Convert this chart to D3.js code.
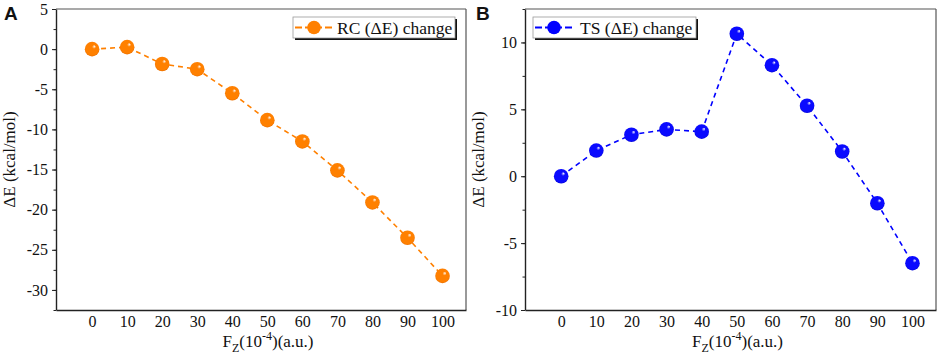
<!DOCTYPE html>
<html>
<head>
<meta charset="utf-8">
<script src="https://cdn.jsdelivr.net/npm/d3@7"></script>
<style>
  body { margin: 0; background: #fff; }
  text { font-family: "Liberation Serif", "Times New Roman", serif; }
  text.letter { font-family: "Liberation Sans", Arial, sans-serif; font-weight: bold; }
</style>
</head>
<body>
<script>
//data
var fieldValues = [0, 10, 20, 30, 40, 50, 60, 70, 80, 90, 100];
var rcValues = [0, 0.25, -1.85, -2.5, -5.5, -8.85, -11.5, -15.1, -19.1, -23.5, -28.25];
var tsValues = [0, 1.92, 3.1, 3.5, 3.33, 10.65, 8.3, 5.27, 1.85, -2.02, -6.5];
var rcTicks = [-30, -25, -20, -15, -10, -5, 0, 5];
var tsTicks = [-10, -5, 0, 5, 10];
var xTicks = fieldValues;

var serif = "'Liberation Serif', 'Times New Roman', serif";

var w = 941;
var h = 357;

var svg = d3.select("body")
            .append("svg")
            .attr("width", w)
            .attr("height", h);

var defs = svg.append("defs");

//shiny sphere gradients for the markers
function addBall(id, base, dark) {
    var g = defs.append("radialGradient")
        .attr("id", id)
        .attr("cx", "0.45").attr("cy", "0.5").attr("r", "0.6")
        .attr("fx", "0.68").attr("fy", "0.3");
    g.append("stop").attr("offset", "0").attr("stop-color", "#ffffff");
    g.append("stop").attr("offset", "0.22").attr("stop-color", base);
    g.append("stop").attr("offset", "0.75").attr("stop-color", base);
    g.append("stop").attr("offset", "1").attr("stop-color", dark);
}
addBall("ballOrange", "#ff8000", "#d85f00");
addBall("ballBlue", "#0a0aff", "#0000b0");

function drawPanel(opt) {
    var left = opt.left, right = opt.right, top = 9, bottom = 310;

    var x = d3.scaleLinear().domain([-10.3, 106.7]).range([left, right]);
    var y = d3.scaleLinear().domain(opt.yDomain).range([bottom, top]);

    var g = svg.append("g");

    //top and right frame
    g.append("line").attr("x1", left).attr("x2", right).attr("y1", top).attr("y2", top)
        .attr("stroke", "#555").attr("stroke-width", 1.2);
    g.append("line").attr("x1", right).attr("x2", right).attr("y1", top).attr("y2", bottom)
        .attr("stroke", "#555").attr("stroke-width", 1.2);

    //minor y ticks
    var minor = d3.range(opt.yDomain[0], opt.yDomain[1] + 0.01, 2.5);
    g.append("g")
        .attr("transform", "translate(" + left + ",0)")
        .call(d3.axisLeft(y).tickValues(minor).tickSize(2.5).tickFormat(""))
        .call(function(a) { a.select(".domain").remove(); })
        .selectAll("line").attr("stroke", "#222");

    //y axis
    var yAxis = g.append("g")
        .attr("transform", "translate(" + left + ",0)")
        .call(d3.axisLeft(y).tickValues(opt.yTicks).tickSize(4).tickSizeOuter(0).tickPadding(4)
            .tickFormat(function(d) { return d; }));
    yAxis.attr("font-family", null);
    yAxis.select(".domain").attr("stroke", "#222").attr("stroke-width", 1.4);
    yAxis.selectAll("line").attr("stroke", "#222");
    yAxis.selectAll("text").style("font-family", serif).style("font-size", "16px").attr("fill", "#111");

    //x axis (labels only)
    var xAxis = g.append("g")
        .attr("transform", "translate(0," + bottom + ")")
        .call(d3.axisBottom(x).tickValues(xTicks).tickSize(0).tickSizeOuter(0).tickPadding(6));
    xAxis.attr("font-family", null);
    xAxis.select(".domain").attr("stroke", "#222").attr("stroke-width", 1.4);
    xAxis.selectAll("text").style("font-family", serif).style("font-size", "16px").attr("fill", "#111");

    //axis titles
    var xt = g.append("text")
        .attr("x", (left + right) / 2 + 7)
        .attr("y", 347)
        .attr("text-anchor", "middle")
        .attr("font-size", 17)
        .attr("fill", "#111");
    xt.append("tspan").text("F");
    xt.append("tspan").attr("font-size", 12).attr("dy", 5).text("Z");
    xt.append("tspan").attr("dy", -5).text("(10");
    xt.append("tspan").attr("font-size", 12).attr("dy", -7).text("-4");
    xt.append("tspan").attr("dy", 7).text(")(a.u.)");

    g.append("text")
        .attr("transform", "translate(" + (left - 41) + "," + ((top + bottom) / 2) + ") rotate(-90)")
        .attr("text-anchor", "middle")
        .attr("font-size", 17)
        .attr("fill", "#111")
        .text("ΔE (kcal/mol)");

    //panel letter
    g.append("text")
        .attr("class", "letter")
        .attr("x", opt.letterX)
        .attr("y", 20)
        .attr("font-size", 19)
        .attr("fill", "#111")
        .text(opt.letter);

    //dashed line
    var line = d3.line()
        .x(function(d, i) { return x(fieldValues[i]); })
        .y(function(d) { return y(d); });

    g.append("path")
        .datum(opt.values)
        .attr("d", line)
        .attr("fill", "none")
        .attr("stroke", opt.color)
        .attr("stroke-width", 1.6)
        .attr("stroke-dasharray", "5,4");

    //sphere markers
    g.selectAll("circle.pt")
        .data(opt.values)
        .enter()
        .append("circle")
        .attr("class", "pt")
        .attr("cx", function(d, i) { return x(fieldValues[i]); })
        .attr("cy", function(d) { return y(d); })
        .attr("r", 7.3)
        .attr("fill", "url(#" + opt.ball + ")");

    //legend with shadow
    var lg = g.append("g").attr("transform", "translate(" + opt.legX + ",17)");
    lg.append("rect").attr("x", 2).attr("y", 2).attr("width", opt.legW).attr("height", 21)
        .attr("fill", "#111");
    lg.append("rect").attr("x", 0).attr("y", 0).attr("width", opt.legW).attr("height", 21)
        .attr("fill", "#fff").attr("stroke", "#999").attr("stroke-width", 0.8);
    lg.append("line").attr("x1", 2).attr("x2", 40).attr("y1", 10.5).attr("y2", 10.5)
        .attr("stroke", opt.color).attr("stroke-width", 2.2).attr("stroke-dasharray", "7,3");
    lg.append("circle").attr("cx", 21).attr("cy", 10.5).attr("r", 6.8).attr("fill", opt.color);
    lg.append("text").attr("x", opt.textX).attr("y", 16.5).attr("font-size", 17.5).attr("fill", "#111")
        .text(opt.label);
}

drawPanel({
    left: 56, right: 466, yDomain: [-32.5, 5], yTicks: rcTicks,
    values: rcValues, color: "#ff8000", ball: "ballOrange",
    label: "RC (ΔE) change", legX: 293, legW: 162, textX: 44, letter: "A", letterX: 4
});

drawPanel({
    left: 525, right: 936, yDomain: [-10, 12.5], yTicks: tsTicks,
    values: tsValues, color: "#0000ff", ball: "ballBlue",
    label: "TS (ΔE) change", legX: 533, legW: 163, textX: 47, letter: "B", letterX: 476
});
</script>
</body>
</html>
